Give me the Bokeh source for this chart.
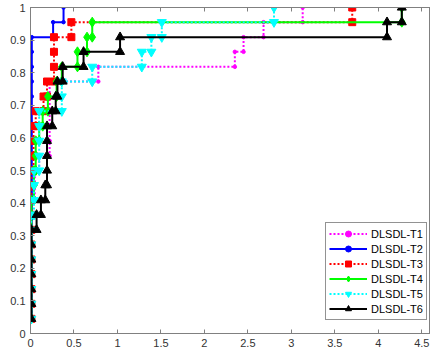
from bokeh.plotting import figure
from bokeh.models import Range1d, FixedTicker, LinearAxis, Legend, LegendItem
from bokeh.embed import file_html
from bokeh.resources import INLINE

# True-positive rate levels reached by every curve (one step per positive sample)
tpr_levels = [0.045, 0.091, 0.136, 0.182, 0.227, 0.273, 0.318, 0.364, 0.409, 0.455, 0.5,
              0.545, 0.591, 0.636, 0.682, 0.727, 0.773, 0.818, 0.864, 0.909, 0.955, 1.0]

# False-positive value at which each curve steps up to the matching TPR level
fpr_t1 = [0.01, 0.01, 0.01, 0.01, 0.01, 0.01, 0.01, 0.01, 0.01, 0.05, 0.05,
          0.10, 0.22, 0.22, 0.22, 0.22, 0.22, 0.78, 2.35, 2.45, 2.68, 3.13]
fpr_t2 = [0.015, 0.015, 0.015, 0.015, 0.015, 0.015, 0.015, 0.015, 0.015, 0.015, 0.015,
          0.015, 0.015, 0.015, 0.015, 0.015, 0.015, 0.015, 0.015, 0.015, 0.26, 0.38]
fpr_t3 = [0.01, 0.01, 0.01, 0.01, 0.01, 0.01, 0.01, 0.01, 0.01, 0.01, 0.01,
          0.035, 0.035, 0.035, 0.06, 0.15, 0.19, 0.27, 0.27, 0.27, 0.47, 3.70]
fpr_t4 = [0.01, 0.01, 0.01, 0.01, 0.01, 0.01, 0.01, 0.01, 0.01, 0.04, 0.04,
          0.06, 0.06, 0.10, 0.14, 0.20, 0.30, 0.36, 0.54, 0.65, 0.71, 4.27]
fpr_t5 = [0.01, 0.01, 0.01, 0.01, 0.01, 0.01, 0.01, 0.01, 0.04, 0.04, 0.04,
          0.10, 0.10, 0.10, 0.10, 0.36, 0.36, 0.71, 1.28, 1.39, 1.51, 2.80]
fpr_t6 = [0.01, 0.01, 0.01, 0.01, 0.01, 0.01, 0.01, 0.07, 0.12, 0.17, 0.19,
          0.19, 0.19, 0.19, 0.25, 0.29, 0.31, 0.37, 0.61, 1.03, 4.10, 4.27]

series_names = ["DLSDL-T1", "DLSDL-T2", "DLSDL-T3", "DLSDL-T4", "DLSDL-T5", "DLSDL-T6"]
series_fpr = [fpr_t1, fpr_t2, fpr_t3, fpr_t4, fpr_t5, fpr_t6]

x_ticks = [0, 0.5, 1, 1.5, 2, 2.5, 3, 3.5, 4, 4.5]
x_tick_labels = ["0", "0.5", "1", "1.5", "2", "2.5", "3", "3.5", "4", "4.5"]
y_ticks = [0, 0.1, 0.2, 0.3, 0.4, 0.5, 0.6, 0.7, 0.8, 0.9, 1.0]
y_tick_labels = ["0", "0.1", "0.2", "0.3", "0.4", "0.5", "0.6", "0.7", "0.8", "0.9", "1"]

# (colour, line dash, marker, marker size)
styles = [
    ("#ff00ff", "2 2", "circle", 3.5),
    ("#0000ff", "solid", "circle", 3.5),
    ("#ff0000", "2 2", "square", 7),
    ("#00ff00", "solid", "diamond", 10),
    ("#00ffff", "2 2", "inverted_triangle", 9),
    ("#000000", "solid", "triangle", 9),
]


def staircase(fpr, tpr):
    """Vertices of a step ROC curve: move right to the new FPR, then up."""
    xs, ys = [fpr[0]], [tpr[0]]
    for k in range(1, len(tpr)):
        if fpr[k] != xs[-1]:
            xs.append(fpr[k])
            ys.append(tpr[k - 1])
        xs.append(fpr[k])
        ys.append(tpr[k])
    return xs, ys


AXIS_COLOR = "#808080"
LABEL_COLOR = "#333333"
FONT = "Liberation Sans"

p = figure(width=430, height=354, output_backend="svg", toolbar_location=None,
           x_range=Range1d(0, 4.6), y_range=Range1d(0, 1),
           min_border_left=30, min_border_right=0, min_border_top=7, min_border_bottom=21)
p.grid.visible = False
p.background_fill_color = "white"
p.border_fill_color = "white"
p.outline_line_color = AXIS_COLOR
p.outline_line_width = 1

for ax, ticks, labels in ((p.xaxis[0], x_ticks, x_tick_labels), (p.yaxis[0], y_ticks, y_tick_labels)):
    ax.ticker = FixedTicker(ticks=ticks)
    ax.major_label_overrides = {t: l for t, l in zip(ticks, labels)}
    ax.minor_tick_line_color = None
    ax.major_tick_in = 4
    ax.major_tick_out = 0
    ax.axis_line_color = AXIS_COLOR
    ax.major_tick_line_color = AXIS_COLOR
    ax.major_label_text_color = LABEL_COLOR
    ax.major_label_text_font = FONT
    ax.major_label_text_font_size = "11px"
    ax.major_label_standoff = 5

# tick marks on the top edge of the box (no labels there)
top = LinearAxis(ticker=FixedTicker(ticks=x_ticks),
                 major_label_overrides={t: "" for t in x_ticks},
                 major_label_text_font_size="1px",
                 major_label_standoff=0, major_tick_in=4, major_tick_out=0,
                 minor_tick_line_color=None, axis_line_color=AXIS_COLOR,
                 major_tick_line_color=AXIS_COLOR)
p.add_layout(top, "above")

items = []
for name, fpr, (color, dash, marker, size) in zip(series_names, series_fpr, styles):
    xs, ys = staircase(fpr, tpr_levels)
    ln = p.line(xs, ys, line_color=color, line_width=2, line_dash=dash)
    mk = p.scatter(xs, ys, marker=marker, size=size, fill_color=color, line_color=color)
    items.append(LegendItem(label=name, renderers=[ln, mk]))

legend = Legend(items=items, location=(295, 13))
legend.label_text_font = FONT
legend.label_text_font_size = "11px"
legend.label_text_color = "#000000"
legend.label_height = 15
legend.glyph_height = 15
legend.glyph_width = 38
legend.label_standoff = 4
legend.spacing = 0
legend.padding = 3
legend.margin = 0
legend.border_line_color = "#262626"
legend.border_line_width = 1
legend.background_fill_color = "white"
legend.background_fill_alpha = 1
p.add_layout(legend, "center")

open("out.html", "w").write(file_html(p, INLINE))
